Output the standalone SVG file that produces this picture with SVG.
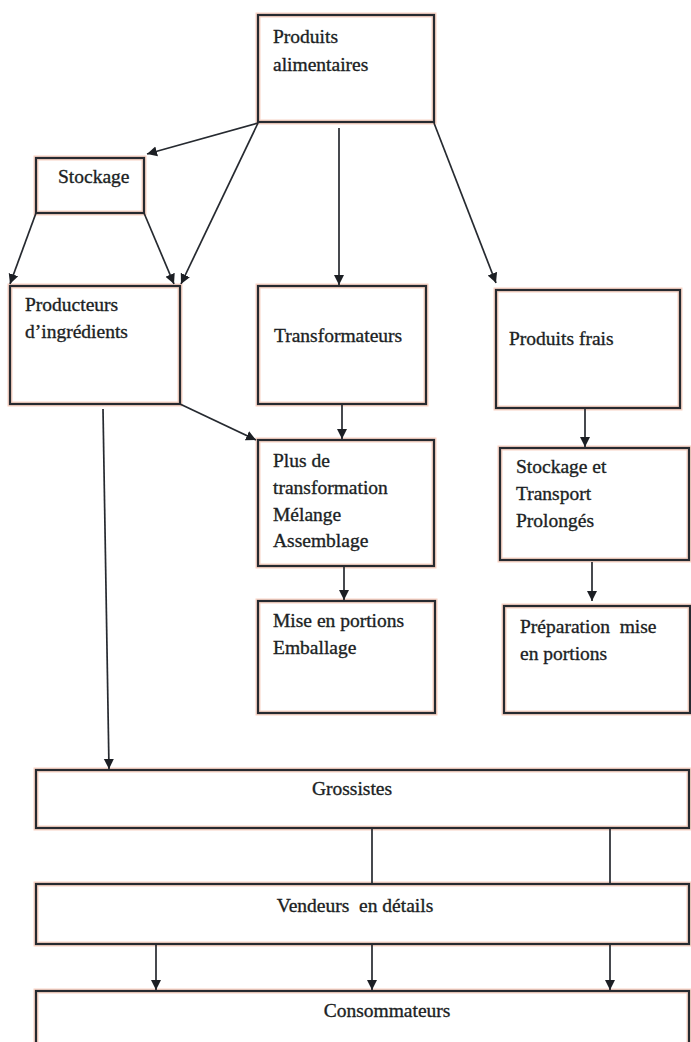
<svg xmlns="http://www.w3.org/2000/svg" width="691" height="1042" viewBox="0 0 691 1042">
<style>
.halo{fill:none;stroke:#f7d2c4;stroke-width:5}
.box{fill:none;stroke:#262a30;stroke-width:2.2}
.t{font-size:19.5px;fill:#1c1f24;stroke:#1c1f24;stroke-width:0.35}
.c{text-anchor:middle}
.ln{fill:none;stroke:#262a30;stroke-width:1.7}
.ar{marker-end:url(#ah)}
</style>
<defs>
<marker id="ah" markerUnits="userSpaceOnUse" markerWidth="12" markerHeight="12" refX="10" refY="5.5" orient="auto">
<path d="M0,0.5 L10,5.5 L0,10.5 z" fill="#1c1f24"/>
</marker>
</defs>
<rect width="691" height="1042" fill="#ffffff"/>
<g font-family="Liberation Serif, Times New Roman, serif">
<g id="n-produits-alimentaires">
<rect class="halo" x="258" y="15" width="176" height="107"/>
<rect class="box" x="258" y="15" width="176" height="107"/>
<text class="t" x="273" y="43">Produits</text>
<text class="t" x="273" y="71">alimentaires</text>
</g>
<g id="n-stockage">
<rect class="halo" x="36" y="158" width="108" height="55"/>
<rect class="box" x="36" y="158" width="108" height="55"/>
<text class="t" x="58" y="183">Stockage</text>
</g>
<g id="n-producteurs">
<rect class="halo" x="10" y="286" width="170" height="118"/>
<rect class="box" x="10" y="286" width="170" height="118"/>
<text class="t" x="25" y="311">Producteurs</text>
<text class="t" x="25" y="338">d’ingrédients</text>
</g>
<g id="n-transformateurs">
<rect class="halo" x="258" y="286" width="168" height="118"/>
<rect class="box" x="258" y="286" width="168" height="118"/>
<text class="t" x="274" y="342">Transformateurs</text>
</g>
<g id="n-produits-frais">
<rect class="halo" x="496" y="290" width="184" height="118"/>
<rect class="box" x="496" y="290" width="184" height="118"/>
<text class="t" x="509" y="345">Produits frais</text>
</g>
<g id="n-plus-de-transformation">
<rect class="halo" x="258" y="440" width="176" height="126"/>
<rect class="box" x="258" y="440" width="176" height="126"/>
<text class="t" x="273" y="467">Plus de</text>
<text class="t" x="273" y="494">transformation</text>
<text class="t" x="273" y="521">Mélange</text>
<text class="t" x="273" y="547">Assemblage</text>
</g>
<g id="n-stockage-transport">
<rect class="halo" x="500" y="448" width="189" height="112"/>
<rect class="box" x="500" y="448" width="189" height="112"/>
<text class="t" x="516" y="473">Stockage et</text>
<text class="t" x="516" y="500">Transport</text>
<text class="t" x="516" y="527">Prolongés</text>
</g>
<g id="n-mise-en-portions">
<rect class="halo" x="258" y="601" width="177" height="112"/>
<rect class="box" x="258" y="601" width="177" height="112"/>
<text class="t" x="273" y="627">Mise en portions</text>
<text class="t" x="273" y="654">Emballage</text>
</g>
<g id="n-preparation">
<rect class="halo" x="504" y="606" width="186" height="107"/>
<rect class="box" x="504" y="606" width="186" height="107"/>
<text class="t" x="520" y="633" xml:space="preserve">Préparation  mise</text>
<text class="t" x="520" y="660">en portions</text>
</g>
<g id="n-grossistes">
<rect class="halo" x="36" y="770" width="653" height="58"/>
<rect class="box" x="36" y="770" width="653" height="58"/>
<text class="t c" x="352" y="795">Grossistes</text>
</g>
<g id="n-vendeurs">
<rect class="halo" x="36" y="884" width="653" height="60"/>
<rect class="box" x="36" y="884" width="653" height="60"/>
<text class="t c" x="355" y="912" xml:space="preserve">Vendeurs  en détails</text>
</g>
<g id="n-consommateurs">
<rect class="halo" x="36" y="991" width="653" height="70"/>
<rect class="box" x="36" y="991" width="653" height="70"/>
<text class="t c" x="387" y="1017">Consommateurs</text>
</g>
</g>
<g id="connectors">
<line class="ln ar" x1="258" y1="123" x2="147" y2="154"/>
<line class="ln ar" x1="258" y1="123" x2="181" y2="284"/>
<line class="ln ar" x1="36" y1="213" x2="10" y2="284"/>
<line class="ln ar" x1="144" y1="213" x2="174" y2="284"/>
<line class="ln ar" x1="339" y1="128" x2="339" y2="285"/>
<line class="ln ar" x1="434" y1="123" x2="496" y2="283"/>
<line class="ln ar" x1="342" y1="404" x2="342" y2="439"/>
<line class="ln ar" x1="180" y1="404" x2="256" y2="440"/>
<line class="ln ar" x1="585" y1="408" x2="585" y2="447"/>
<line class="ln ar" x1="344" y1="566" x2="344" y2="600"/>
<line class="ln ar" x1="592" y1="562" x2="592" y2="601"/>
<line class="ln ar" x1="103" y1="409" x2="109" y2="769"/>
<line class="ln" x1="372" y1="828" x2="372" y2="884"/>
<line class="ln" x1="610" y1="828" x2="610" y2="884"/>
<line class="ln ar" x1="156" y1="944" x2="156" y2="990"/>
<line class="ln ar" x1="372" y1="944" x2="372" y2="990"/>
<line class="ln ar" x1="610" y1="944" x2="610" y2="990"/>
</g>
</svg>
